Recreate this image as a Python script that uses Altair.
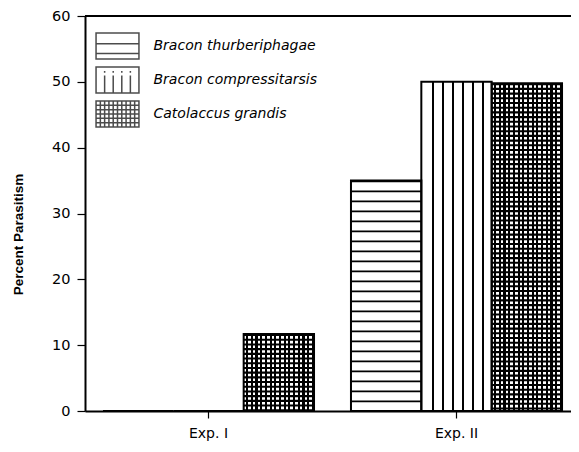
import altair as alt
import pandas as pd

experiments = ["Exp. I", "Exp. II"]
species = ["Bracon thurberiphagae", "Bracon compressitarsis", "Catolaccus grandis"]
thurberiphagae = [0, 35]
compressitarsis = [0, 50]
catolaccus = [11.7, 49.8]
y_ticks = [0, 10, 20, 30, 40, 50, 60]

rows = []
for sp, vals in zip(species, [thurberiphagae, compressitarsis, catolaccus]):
    for e, v in zip(experiments, vals):
        rows.append({"exp": e, "species": sp, "pct": v})
df = pd.DataFrame(rows)

W, H = 486, 395
BAR_W = 70

x_enc = alt.X(
    "exp:N", sort=experiments,
    scale=alt.Scale(domain=experiments, paddingInner=0.149, paddingOuter=0.0543, align=0.667),
    axis=alt.Axis(title=None, labelAngle=0, labelFont="DejaVu Sans", labelFontSize=14,
                  labelColor="black", labelPadding=8, tickSize=7, tickColor="black",
                  tickWidth=1.2, domainColor="black", domainWidth=2, zindex=1),
)
xo_enc = alt.XOffset("species:N", sort=species,
                     scale=alt.Scale(domain=species, paddingInner=0, paddingOuter=0))
y_enc = alt.Y(
    "pct:Q",
    scale=alt.Scale(domain=[0, 60], nice=False),
    axis=alt.Axis(values=y_ticks, title="Percent Parasitism", titleFont="Liberation Sans",
                  titleFontSize=13.5, titleFontWeight="bold", titleColor="black",
                  titleX=-67, titleY=218, titleBaseline="middle", titleAngle=270,
                  labelFont="DejaVu Sans", labelFontSize=14.5, labelColor="black",
                  labelPadding=7, tickSize=8, tickColor="black", tickWidth=1.2,
                  domainColor="black", domainWidth=2, grid=False, zindex=1),
)

base = alt.Chart(df)


def sharp_stops(lines, half):
    stops = [alt.GradientStop(color="white", offset=0)]
    for f in lines:
        a, b = max(0, f - half), min(1, f + half)
        stops += [alt.GradientStop(color="white", offset=a),
                  alt.GradientStop(color="black", offset=a),
                  alt.GradientStop(color="black", offset=b),
                  alt.GradientStop(color="white", offset=b)]
    stops.append(alt.GradientStop(color="white", offset=1))
    return stops


vert_grad = alt.Gradient(gradient="linear", x1=0, x2=1, y1=0, y2=0,
                         stops=sharp_stops([k / 7 + 0.02 for k in range(1, 7)], 0.014))
grid_lines = [(k + 0.75) / 15 for k in range(15)]
grid_grad = alt.Gradient(gradient="linear", x1=0, x2=1, y1=0, y2=0,
                         stops=sharp_stops(grid_lines, 0.23 / 15))

thurb_bar = base.transform_filter(alt.datum.species == species[0]).mark_bar(
    fill="white", strokeWidth=0).encode(x=x_enc, xOffset=xo_enc, y=y_enc)
compr_bar = base.transform_filter(alt.datum.species == species[1]).mark_bar(
    fill=vert_grad, strokeWidth=0).encode(x=x_enc, xOffset=xo_enc, y=y_enc)
catol_bar = base.transform_filter(alt.datum.species == species[2]).mark_bar(
    fill=grid_grad, strokeWidth=0).encode(x=x_enc, xOffset=xo_enc, y=y_enc)

thurb_hatch = base.transform_filter(
    (alt.datum.species == species[0]) & (alt.datum.pct > 0)).mark_rule(
    color="black", strokeWidth=BAR_W, strokeDash=[1.6, 8.4], strokeCap="butt").encode(
    x=x_enc, xOffset=xo_enc, y=y_enc, y2=alt.Y2(datum=0))
catol_hatch = base.transform_filter(
    (alt.datum.species == species[2]) & (alt.datum.pct > 0)).mark_rule(
    color="black", strokeWidth=BAR_W, strokeDash=[2.1, 2.6], strokeCap="butt").encode(
    x=x_enc, xOffset=xo_enc, y=y_enc, y2=alt.Y2(datum=0))

outline = base.mark_bar(fill="transparent", stroke="black", strokeWidth=2).encode(
    x=x_enc, xOffset=xo_enc, y=y_enc)

top_rule = base.mark_rule(color="black", strokeWidth=2).encode(y=alt.datum(60))

# legend symbols (custom paths, unit = sqrt(size)/2 px)
hw = 1.65
rect = f"M{-hw},-1H{hw}V1H{-hw}Z"
p_h = rect + f"M{-hw},-0.17H{hw}M{-hw},0.58H{hw}"
p_v = rect
for f in [0.2, 0.4, 0.6, 0.8]:
    xx = -hw + 2 * hw * f
    p_v += f"M{xx:.3f},-0.35V1M{xx:.3f},-0.7V-0.55"
p_g = rect
n_v = 10
for k in range(1, n_v):
    xx = -hw + 2 * hw * k / n_v
    p_g += f"M{xx:.3f},-1V1"
for k in range(1, 6):
    yy = -1 + 2 * k / 6
    p_g += f"M{-hw},{yy:.3f}H{hw}"

legend_layer = base.transform_filter(alt.datum.pct < 0).mark_point(
    filled=False, color="black", strokeWidth=1.5, size=676).encode(
    shape=alt.Shape("species:N", sort=species,
                    scale=alt.Scale(domain=species, range=[p_h, p_v, p_g]),
                    legend=alt.Legend(title=None, orient="none", legendX=18.5, legendY=16,
                                      direction="vertical", labelFont="DejaVu Sans",
                                      labelFontSize=14, labelFontStyle="italic",
                                      labelColor="black", labelOffset=22, rowPadding=2,
                                      padding=0, symbolStrokeColor="black",
                                      symbolStrokeWidth=1.5, symbolSize=676,
                                      labelLimit=300)))

chart = alt.layer(thurb_bar, compr_bar, catol_bar, thurb_hatch, catol_hatch, outline,
                  top_rule, legend_layer).properties(
    width=W, height=H,
    autosize=alt.AutoSizeParams(type="none"),
    padding={"left": 77, "top": 8, "right": 0, "bottom": 38},
    background="white",
).configure_view(stroke="#c8c8c8", strokeWidth=1)

chart.save("out.html", embed_options={"renderer": "svg", "actions": False})
